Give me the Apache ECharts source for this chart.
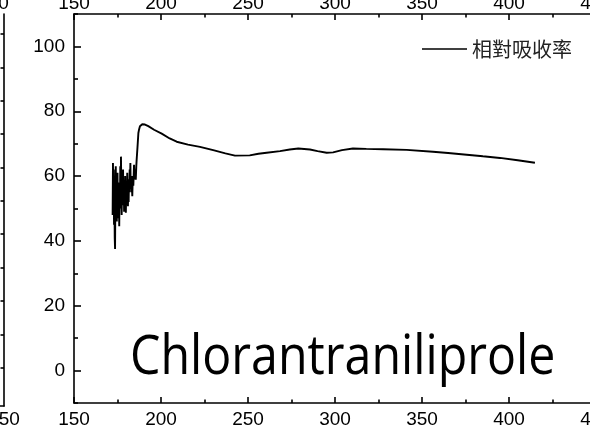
<!DOCTYPE html>
<html>
<head>
<meta charset="utf-8">
<script src="https://cdn.jsdelivr.net/npm/echarts@6/dist/echarts.min.js"></script>
<style>html,body{margin:0;padding:0;background:#fff}#c{width:590px;height:425px}</style>
</head>
<body>
<div id="c"></div>
<script>
// Wavelength (nm)
var wavelengths = [172.2,172.4,172.6,172.8,173.0,173.2,173.4,173.6,173.8,174.0,174.2,174.4,174.6,174.8,175.0,175.2,175.4,175.6,175.8,176.0,176.2,176.4,176.6,176.8,177.0,177.2,177.4,177.6,177.8,178.0,178.2,178.4,178.6,178.8,179.0,179.2,179.4,179.6,179.8,180.0,180.2,180.4,180.6,180.8,181.0,181.2,181.4,181.6,181.8,182.0,182.2,182.4,182.6,182.8,183.0,183.2,183.5,183.8,184.1,184.5,184.8,185.1,185.5,185.8,186.0,186.5,187.0,187.4,187.9,188.5,189.2,189.8,190.8,192.7,196,200.4,205,209,215.5,222.4,230,237,242.5,251,256,260.7,268.4,274,278.9,285.6,290,295.2,298.9,304,310.3,318,327.6,341.2,356.3,365,375.7,385,394.8,405,414.9];
// Relative absorbance (%)
var absorbance = [48,64,50,62,45,60,41,37.5,55,63,52,59,46,56,61,49,58,47,53,44.5,57,52,63,50,66,55,48,59,53,60,62,51,57,49,56,52,60,50,48.7,55,58,53,61,54,50.7,57,52,59,55,62,57,64,56,60,55,58,53.8,60,57,63.5,59,62,58.9,63,65,69,73.3,74.4,75.4,75.6,76,75.6,75.9,75.4,74.3,73.1,71.6,70.6,69.7,69.0,68.0,67.0,66.3,66.4,66.9,67.2,67.7,68.2,68.5,68.2,67.7,67.2,67.3,68.0,68.5,68.4,68.3,68.1,67.5,67.1,66.6,66.1,65.6,64.9,64.1];
var seriesName = '相對吸收率';
var compoundName = 'Chlorantraniliprole';
var yLabelValues = [0,20,40,60,80,100];
var yMinorValues = [-10,10,30,50,70,90,110];
var leftTickValues = [0,1,2,3,4,5,6,7,8,9,10];

var pairs = wavelengths.map(function(x,i){return [x, absorbance[i]];});

var chart = echarts.init(document.getElementById('c'), null, {renderer:'canvas'});
var axisFont = {fontFamily:'Liberation Sans, Arial', fontSize:19, color:'#000'};
var lineSty = {color:'#000', width:1.6};

chart.setOption({
  animation:false,
  backgroundColor:'#fff',
  grid:[
    {left:74, top:14, width:522, height:389, outerBoundsMode:'none', containLabel:false},
    {left:-516, top:14, width:520, height:392, outerBoundsMode:'none', containLabel:false}
  ],
  legend:{
    left:422, top:39, padding:0, itemWidth:45, itemHeight:20, itemGap:0,
    textStyle:{fontFamily:'Noto Sans CJK TC', fontSize:20, color:'#222'},
    data:[{name:seriesName, icon:'path://M0,0H45V1.3H0Z'}],
    itemStyle:{color:'#000'}
  },
  xAxis:[
    {gridIndex:0, type:'value', position:'bottom', min:150, max:450, interval:50,
      axisLine:{onZero:false, lineStyle:lineSty}, axisTick:{inside:true, length:6, lineStyle:lineSty},
      minorTick:{show:true, splitNumber:2, length:3.5, lineStyle:lineSty},
      splitLine:{show:false}, axisLabel:Object.assign({margin:7}, axisFont)},
    {gridIndex:0, type:'value', position:'top', min:150, max:450, interval:50,
      axisLine:{onZero:false, lineStyle:lineSty}, axisTick:{inside:true, length:6, lineStyle:lineSty},
      minorTick:{show:true, splitNumber:2, length:3.5, lineStyle:lineSty},
      splitLine:{show:false}, axisLabel:Object.assign({margin:1}, axisFont)},
    {gridIndex:1, type:'value', position:'bottom', min:150, max:450, interval:50,
      axisLine:{onZero:false, lineStyle:lineSty}, axisTick:{show:false}, splitLine:{show:false},
      axisLabel:Object.assign({margin:4}, axisFont)},
    {gridIndex:1, type:'value', position:'top', min:150, max:450, interval:50,
      axisLine:{onZero:false, show:false}, axisTick:{show:false}, splitLine:{show:false},
      axisLabel:Object.assign({margin:1, padding:[0,22,0,0]}, axisFont)}
  ],
  yAxis:[
    {gridIndex:0, type:'value', position:'left', min:-10, max:110,
      axisLine:{show:true, onZero:false, lineStyle:lineSty},
      axisTick:{show:true, inside:true, length:7, lineStyle:lineSty, customValues:yLabelValues},
      axisLabel:Object.assign({margin:9, customValues:yLabelValues}, axisFont),
      splitLine:{show:false}},
    {gridIndex:0, type:'value', position:'left', min:-10, max:110,
      axisLine:{show:false, onZero:false},
      axisTick:{show:true, inside:true, length:4, lineStyle:lineSty, customValues:yMinorValues},
      axisLabel:{show:false}, splitLine:{show:false}},
    {gridIndex:1, type:'value', position:'right', min:-1.15, max:10.6,
      axisLine:{show:true, onZero:false, lineStyle:lineSty},
      axisTick:{show:true, inside:true, length:3.5, lineStyle:lineSty, customValues:leftTickValues},
      axisLabel:{show:false}, splitLine:{show:false}}
  ],
  graphic:[
    {type:'text', x:130, y:332, scaleX:0.895, scaleY:1,
      style:{text:compoundName, font:'54px "Open Sans"', fill:'#000', textVerticalAlign:'top'}}
  ],
  series:[
    {name:seriesName, type:'line', xAxisIndex:0, yAxisIndex:0, data:pairs,
      symbol:'none', showSymbol:false, lineStyle:{color:'#000', width:1.9}, itemStyle:{color:'#000'}}
  ]
});
</script>
</body>
</html>
